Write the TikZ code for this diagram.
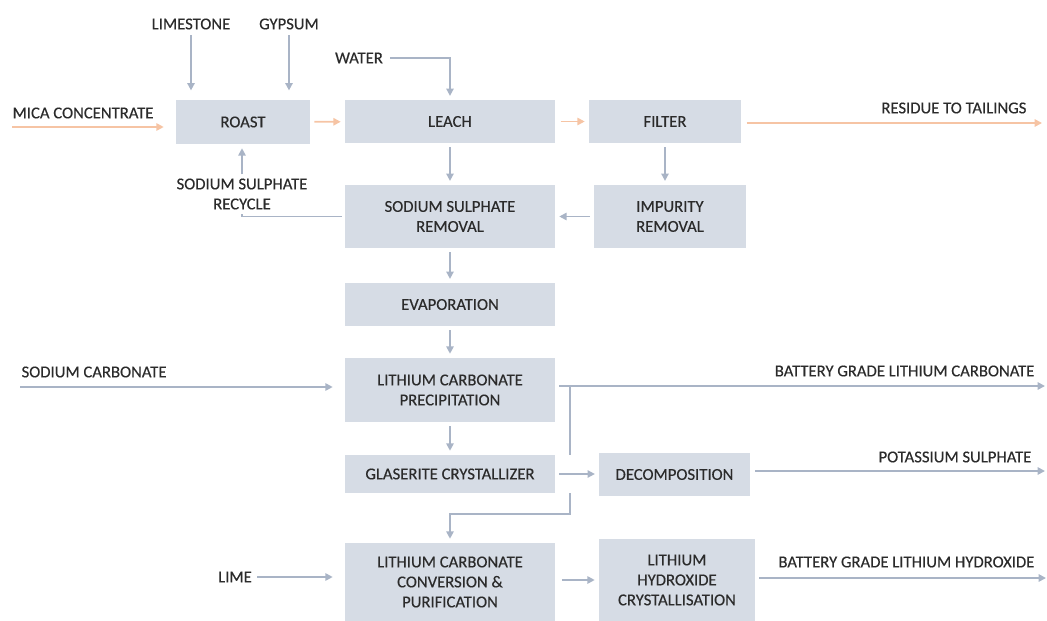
\documentclass[tikz,border=0pt]{standalone}
\usepackage{fontspec}
\setmainfont{Carlito}[FakeBold=0.35]
\usetikzlibrary{arrows.meta}
\definecolor{boxfill}{HTML}{D6DCE5}
\definecolor{linegray}{HTML}{A9B4C6}
\definecolor{hotline}{HTML}{F6C4A4}
\definecolor{ink}{HTML}{2B2B2B}
\tikzset{
    unit/.style={fill=boxfill, text=ink, align=center, inner sep=0pt},
    stream/.style={text=ink, align=center, inner sep=1pt},
    pipe/.style={draw=linegray, line width=1.3pt},
    flow/.style={pipe, -{Triangle[length=5.5pt,width=5.5pt]}, shorten >=3pt},
    hotflow/.style={flow, draw=hotline},
}
\begin{document}
\begin{tikzpicture}[x=0.75pt, y=-0.75pt, font=\fontsize{12.5}{15}\selectfont]
    \useasboundingbox (0,0) rectangle (1047,621);

    % process units
    \node[unit, minimum width=100.5pt, minimum height=33pt] (roast) at (243,122) {ROAST};
    \node[unit, minimum width=157.5pt, minimum height=32pt] (leach) at (450,121.5) {LEACH};
    \node[unit, minimum width=114pt, minimum height=32pt] (filter) at (665,121.5) {FILTER};
    \node[unit, minimum width=157.5pt, minimum height=47pt] (ssr) at (450,216.5) {SODIUM SULPHATE\\REMOVAL};
    \node[unit, minimum width=114pt, minimum height=47pt] (impurity) at (670,216.5) {IMPURITY\\REMOVAL};
    \node[unit, minimum width=157.5pt, minimum height=32pt] (evap) at (450,304.5) {EVAPORATION};
    \node[unit, minimum width=157.5pt, minimum height=48pt] (lcp) at (450,390) {LITHIUM CARBONATE\\PRECIPITATION};
    \node[unit, minimum width=157.5pt, minimum height=28.5pt] (glaserite) at (450,474) {GLASERITE CRYSTALLIZER};
    \node[unit, minimum width=113pt, minimum height=32pt] (decomp) at (674.5,474.5) {DECOMPOSITION};
    \node[unit, minimum width=157.5pt, minimum height=58.5pt] (lccp) at (450,582) {LITHIUM CARBONATE\\CONVERSION \&\\PURIFICATION};
    \node[unit, minimum width=117pt, minimum height=61.5pt] (lhc) at (677,580) {LITHIUM\\HYDROXIDE\\CRYSTALLISATION};

    % streams in and out
    \node[stream] (limestone) at (191,24) {LIMESTONE};
    \node[stream] (gypsum) at (289,24) {GYPSUM};
    \node[stream, anchor=west] (mica) at (11,113) {MICA CONCENTRATE};
    \node[stream] (water) at (359,58) {WATER};
    \node[stream, anchor=east] (residue) at (1028,108) {RESIDUE TO TAILINGS};
    \node[stream] (recycle) at (242,194) {SODIUM SULPHATE\\RECYCLE};
    \node[stream, anchor=west] (sodcarb) at (20,372) {SODIUM CARBONATE};
    \node[stream, anchor=east] (blc) at (1036,371) {BATTERY GRADE LITHIUM CARBONATE};
    \node[stream, anchor=east] (potassium) at (1033,457) {POTASSIUM SULPHATE};
    \node[stream] (lime) at (235,577) {LIME};
    \node[stream, anchor=east] (blh) at (1036,562) {BATTERY GRADE LITHIUM HYDROXIDE};

    \coordinate (micastart) at (12,127);
    \coordinate (resend) at (1046,123);
    \coordinate (sodstart) at (20,387);
    \coordinate (blcend) at (1049,386);
    \coordinate (potend) at (1049,471);
    \coordinate (blhend) at (1050,578);
    \coordinate (tap) at (570,386);
    \coordinate (drop) at (570,514);

    % orange solids route
    \draw[hotflow, shorten >=9pt] (micastart) -- (micastart -| roast.west);
    \draw[hotflow, shorten <=3pt] (roast) -- (leach);
    \draw[hotflow, shorten <=4pt] (leach) -- (filter);
    \draw[hotflow, shorten <=4pt] (filter.east |- resend) -- (resend);

    % liquor route
    \draw[flow, shorten >=7pt, shorten <=3pt] (limestone.south) -- (limestone.south |- roast.north);
    \draw[flow, shorten >=7pt, shorten <=3pt] (gypsum.south) -- (gypsum.south |- roast.north);
    \draw[flow, shorten <=4pt] (water.east) -| (leach.north);
    \draw[flow, shorten <=3pt] (leach) -- (ssr);
    \draw[flow, shorten <=3pt] (filter) -- (impurity.north -| filter);
    \draw[flow, shorten <=3pt] (impurity.west |- ssr) -- (ssr);
    \draw[pipe, shorten <=2pt, shorten >=2pt] (ssr.west) -| (recycle.south);
    \draw[flow, shorten <=2pt] (recycle.north) -- (roast.south -| recycle.north);
    \draw[flow, shorten <=3pt] (ssr) -- (evap);
    \draw[flow, shorten <=3pt] (evap) -- (lcp);
    \draw[flow, shorten >=9pt] (sodstart) -- (sodstart -| lcp.west);
    \draw[flow, shorten <=3pt] (lcp.east |- tap) -- (blcend);
    \draw[pipe] (tap) -- (tap |- glaserite.north);
    \draw[flow, shorten <=3pt] (lcp) -- (glaserite);
    \draw[flow, shorten <=3pt] (glaserite) -- (decomp.west |- glaserite);
    \draw[flow, shorten <=4pt] (decomp.east |- potend) -- (potend);
    \draw[flow] (tap |- glaserite.south) -- (drop) -| (lccp.north);
    \draw[flow, shorten <=3pt, shorten >=9pt] (lime.east) -- (lime.east -| lccp.west);
    \draw[flow, shorten <=5pt] (lccp.east |- lhc) -- (lhc.west |- lhc);
    \draw[flow, shorten <=3pt] (lhc.east |- blhend) -- (blhend);
\end{tikzpicture}
\end{document}
